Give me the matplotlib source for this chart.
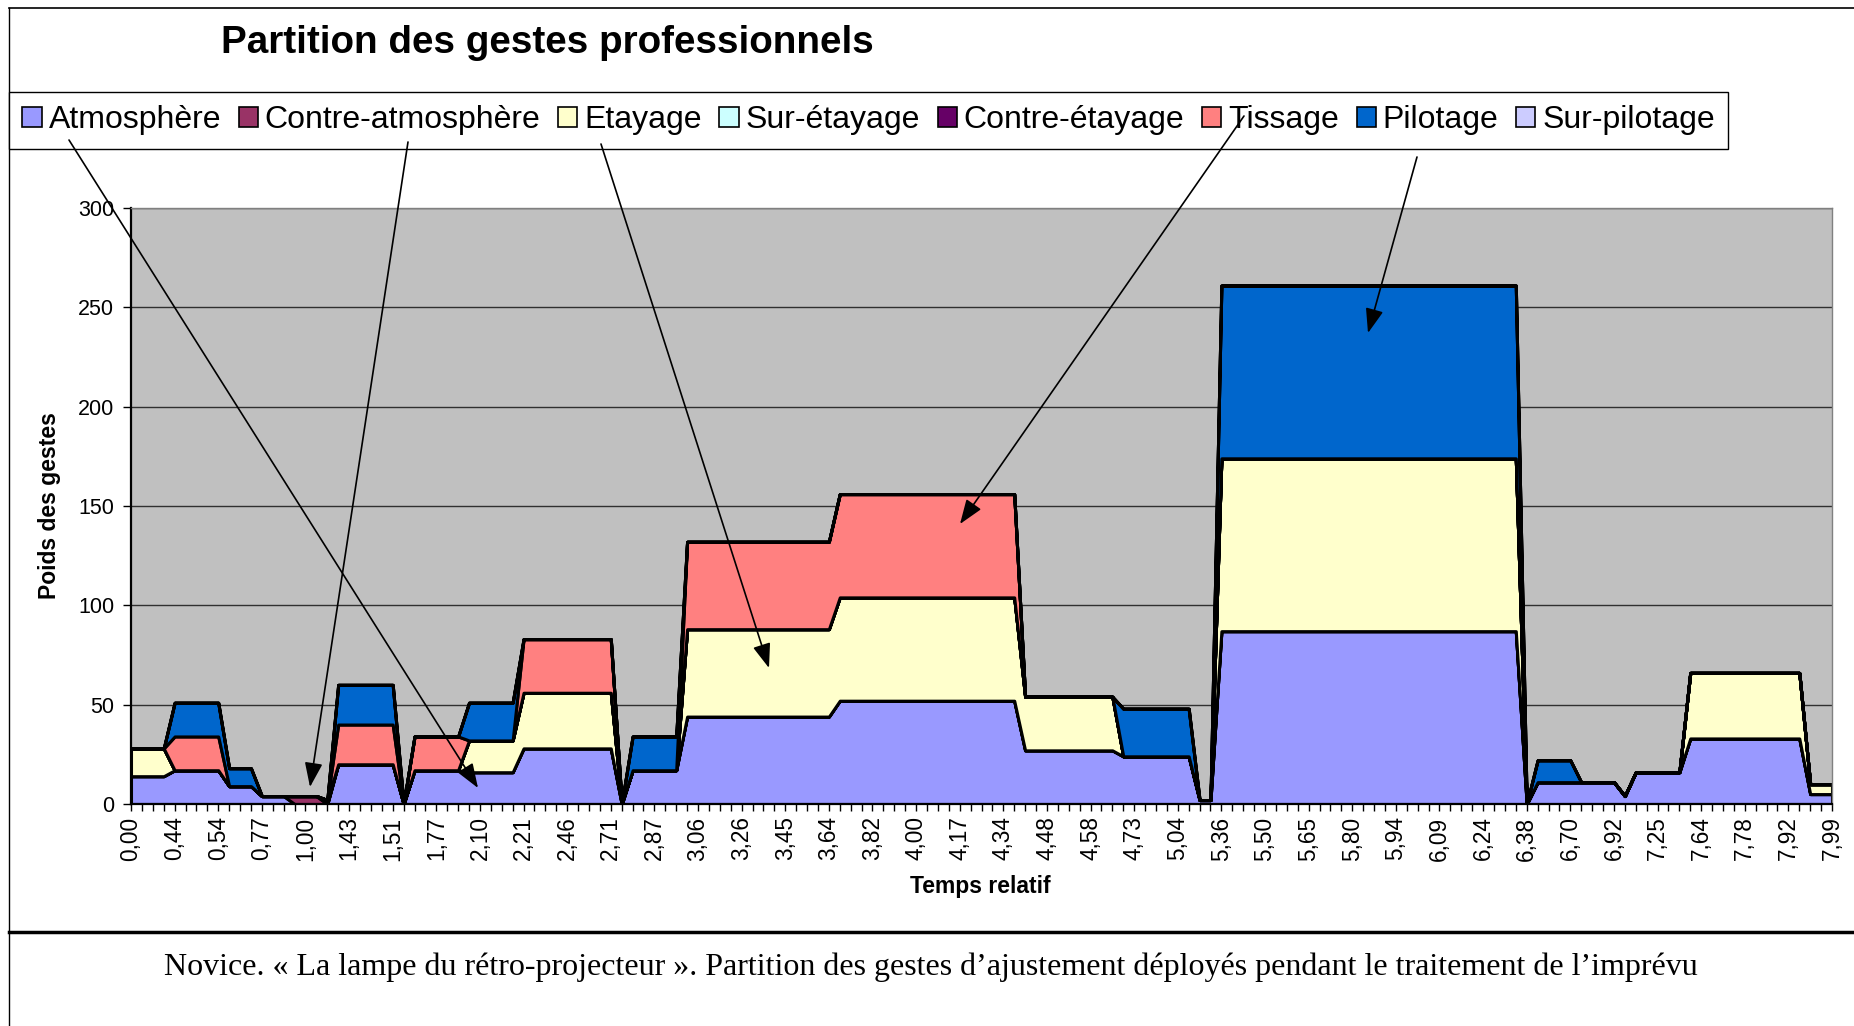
import matplotlib
matplotlib.use('Agg')
import matplotlib.pyplot as plt
from matplotlib.patches import Rectangle, FancyArrowPatch, ArrowStyle
from matplotlib.lines import Line2D
import numpy as np

# ---------------- data ----------------
series_names = ["Atmosphère", "Contre-atmosphère", "Etayage", "Sur-étayage",
                "Contre-étayage", "Tissage", "Pilotage", "Sur-pilotage"]
series_colors = ["#9999FF", "#993366", "#FFFFCC", "#CCFFFF",
                 "#660066", "#FF8080", "#0066CC", "#CCCCFF"]

tick_labels = ["0,00", "0,44", "0,54", "0,77", "1,00", "1,43", "1,51", "1,77",
               "2,10", "2,21", "2,46", "2,71", "2,87", "3,06", "3,26", "3,45",
               "3,64", "3,82", "4,00", "4,17", "4,34", "4,48", "4,58", "4,73",
               "5,04", "5,36", "5,50", "5,65", "5,80", "5,94", "6,09", "6,24",
               "6,38", "6,70", "6,92", "7,25", "7,64", "7,78", "7,92", "7,99"]

atmosphere = [14, 14, 14, 14, 17, 17, 17, 17, 17, 9,
              9, 9, 4, 4, 4, 0, 0, 0, 0, 20,
              20, 20, 20, 20, 20, 0, 17, 17, 17, 17,
              17, 16, 16, 16, 16, 16, 28, 28, 28, 28,
              28, 28, 28, 28, 28, 0, 17, 17, 17, 17,
              17, 44, 44, 44, 44, 44, 44, 44, 44, 44,
              44, 44, 44, 44, 44, 52, 52, 52, 52, 52,
              52, 52, 52, 52, 52, 52, 52, 52, 52, 52,
              52, 52, 27, 27, 27, 27, 27, 27, 27, 27,
              27, 24, 24, 24, 24, 24, 24, 24, 2, 2,
              87, 87, 87, 87, 87, 87, 87, 87, 87, 87,
              87, 87, 87, 87, 87, 87, 87, 87, 87, 87,
              87, 87, 87, 87, 87, 87, 87, 87, 0, 11,
              11, 11, 11, 11, 11, 11, 11, 4, 16, 16,
              16, 16, 16, 33, 33, 33, 33, 33, 33, 33,
              33, 33, 33, 33, 5, 5, 5]

contre_atmosphere = [0, 0, 0, 0, 0, 0, 0, 0, 0, 0,
                     0, 0, 0, 0, 0, 4, 4, 4, 0, 0,
                     0, 0, 0, 0, 0, 0, 0, 0, 0, 0,
                     0, 0, 0, 0, 0, 0, 0, 0, 0, 0,
                     0, 0, 0, 0, 0, 0, 0, 0, 0, 0,
                     0, 0, 0, 0, 0, 0, 0, 0, 0, 0,
                     0, 0, 0, 0, 0, 0, 0, 0, 0, 0,
                     0, 0, 0, 0, 0, 0, 0, 0, 0, 0,
                     0, 0, 0, 0, 0, 0, 0, 0, 0, 0,
                     0, 0, 0, 0, 0, 0, 0, 0, 0, 0,
                     0, 0, 0, 0, 0, 0, 0, 0, 0, 0,
                     0, 0, 0, 0, 0, 0, 0, 0, 0, 0,
                     0, 0, 0, 0, 0, 0, 0, 0, 0, 0,
                     0, 0, 0, 0, 0, 0, 0, 0, 0, 0,
                     0, 0, 0, 0, 0, 0, 0, 0, 0, 0,
                     0, 0, 0, 0, 0, 0, 0]

etayage = [14, 14, 14, 14, 0, 0, 0, 0, 0, 0,
           0, 0, 0, 0, 0, 0, 0, 0, 2, 0,
           0, 0, 0, 0, 0, 0, 0, 0, 0, 0,
           0, 16, 16, 16, 16, 16, 28, 28, 28, 28,
           28, 28, 28, 28, 28, 0, 0, 0, 0, 0,
           0, 44, 44, 44, 44, 44, 44, 44, 44, 44,
           44, 44, 44, 44, 44, 52, 52, 52, 52, 52,
           52, 52, 52, 52, 52, 52, 52, 52, 52, 52,
           52, 52, 27, 27, 27, 27, 27, 27, 27, 27,
           27, 0, 0, 0, 0, 0, 0, 0, 0, 0,
           87, 87, 87, 87, 87, 87, 87, 87, 87, 87,
           87, 87, 87, 87, 87, 87, 87, 87, 87, 87,
           87, 87, 87, 87, 87, 87, 87, 87, 0, 0,
           0, 0, 0, 0, 0, 0, 0, 0, 0, 0,
           0, 0, 0, 33, 33, 33, 33, 33, 33, 33,
           33, 33, 33, 33, 5, 5, 5]

sur_etayage = [0, 0, 0, 0, 0, 0, 0, 0, 0, 0,
               0, 0, 0, 0, 0, 0, 0, 0, 0, 0,
               0, 0, 0, 0, 0, 0, 0, 0, 0, 0,
               0, 0, 0, 0, 0, 0, 0, 0, 0, 0,
               0, 0, 0, 0, 0, 0, 0, 0, 0, 0,
               0, 0, 0, 0, 0, 0, 0, 0, 0, 0,
               0, 0, 0, 0, 0, 0, 0, 0, 0, 0,
               0, 0, 0, 0, 0, 0, 0, 0, 0, 0,
               0, 0, 0, 0, 0, 0, 0, 0, 0, 0,
               0, 0, 0, 0, 0, 0, 0, 0, 0, 0,
               0, 0, 0, 0, 0, 0, 0, 0, 0, 0,
               0, 0, 0, 0, 0, 0, 0, 0, 0, 0,
               0, 0, 0, 0, 0, 0, 0, 0, 0, 0,
               0, 0, 0, 0, 0, 0, 0, 0, 0, 0,
               0, 0, 0, 0, 0, 0, 0, 0, 0, 0,
               0, 0, 0, 0, 0, 0, 0]

contre_etayage = list(sur_etayage)

tissage = [0, 0, 0, 0, 17, 17, 17, 17, 17, 0,
           0, 0, 0, 0, 0, 0, 0, 0, 0, 20,
           20, 20, 20, 20, 20, 0, 17, 17, 17, 17,
           17, 0, 0, 0, 0, 0, 27, 27, 27, 27,
           27, 27, 27, 27, 27, 0, 0, 0, 0, 0,
           0, 44, 44, 44, 44, 44, 44, 44, 44, 44,
           44, 44, 44, 44, 44, 52, 52, 52, 52, 52,
           52, 52, 52, 52, 52, 52, 52, 52, 52, 52,
           52, 52, 0, 0, 0, 0, 0, 0, 0, 0,
           0, 0, 0, 0, 0, 0, 0, 0, 0, 0,
           0, 0, 0, 0, 0, 0, 0, 0, 0, 0,
           0, 0, 0, 0, 0, 0, 0, 0, 0, 0,
           0, 0, 0, 0, 0, 0, 0, 0, 0, 0,
           0, 0, 0, 0, 0, 0, 0, 0, 0, 0,
           0, 0, 0, 0, 0, 0, 0, 0, 0, 0,
           0, 0, 0, 0, 0, 0, 0]

pilotage = [0, 0, 0, 0, 17, 17, 17, 17, 17, 9,
            9, 9, 0, 0, 0, 0, 0, 0, 0, 20,
            20, 20, 20, 20, 20, 0, 0, 0, 0, 0,
            0, 19, 19, 19, 19, 19, 0, 0, 0, 0,
            0, 0, 0, 0, 0, 0, 17, 17, 17, 17,
            17, 0, 0, 0, 0, 0, 0, 0, 0, 0,
            0, 0, 0, 0, 0, 0, 0, 0, 0, 0,
            0, 0, 0, 0, 0, 0, 0, 0, 0, 0,
            0, 0, 0, 0, 0, 0, 0, 0, 0, 0,
            0, 24, 24, 24, 24, 24, 24, 24, 0, 0,
            87, 87, 87, 87, 87, 87, 87, 87, 87, 87,
            87, 87, 87, 87, 87, 87, 87, 87, 87, 87,
            87, 87, 87, 87, 87, 87, 87, 87, 0, 11,
            11, 11, 11, 0, 0, 0, 0, 0, 0, 0,
            0, 0, 0, 0, 0, 0, 0, 0, 0, 0,
            0, 0, 0, 0, 0, 0, 0]

sur_pilotage = list(sur_etayage)

title = "Partition des gestes professionnels"
ylabel = "Poids des gestes"
xlabel = "Temps relatif"
caption = ("Novice. \u00ab La lampe du r\u00e9tro-projecteur \u00bb. Partition des gestes "
           "d\u2019ajustement d\u00e9ploy\u00e9s pendant le traitement de l\u2019impr\u00e9vu")

series = [atmosphere, contre_atmosphere, etayage, sur_etayage,
          contre_etayage, tissage, pilotage, sur_pilotage]
n = len(atmosphere)
for s in series:
    assert len(s) == n, len(s)

# ---------------- figure ----------------
plt.rcParams['font.family'] = ['Liberation Sans', 'DejaVu Sans']
W, H = 1854, 1026
fig = plt.figure(figsize=(W / 100, H / 100), dpi=100)
fig.patch.set_facecolor('white')

def fx(px):
    return px / W

def fy(py):
    return 1 - py / H

# plot area
L, R, T, B = 131, 1832, 208, 804
ax = fig.add_axes([fx(L), fy(B), (R - L) / W, (B - T) / H])
ax.set_facecolor('#C0C0C0')
x = np.arange(n)
ax.stackplot(x, *series, colors=series_colors, edgecolor='black',
             linewidth=2.2, labels=series_names)
ax.set_xlim(0, n - 1)
ax.set_ylim(0, 300)
ax.set_yticks(np.arange(0, 301, 50))
ax.yaxis.grid(True, color='#303030', linewidth=1.0)
ax.set_axisbelow(True)

label_pos = np.arange(0, n, 4)
ax.set_xticks(label_pos)
ax.set_xticklabels(tick_labels, rotation=90, fontsize=16.3)
ax.set_xticks(x, minor=True)
ax.tick_params(axis='x', which='both', direction='out', length=5, width=1.0,
               color='black', pad=4)
ax.tick_params(axis='y', direction='out', length=6, width=1.0, labelsize=15.5,
               pad=6)
for sp in ['left', 'bottom']:
    ax.spines[sp].set_color('black')
    ax.spines[sp].set_linewidth(1.6)
for sp in ['top', 'right']:
    ax.spines[sp].set_color('#808080')
    ax.spines[sp].set_linewidth(1.0)

fig.text(fx(50), fy(506), ylabel, rotation=90, ha='center', va='center',
         fontsize=16.5, fontweight='bold')
fig.text(fx(980), fy(886), xlabel, ha='center', va='center',
         fontsize=16.5, fontweight='bold')

# title
t_title = fig.text(fx(221), fy(43), title, ha='left', va='center',
                   fontsize=27.8, fontweight='bold')

# legend
handles = [Rectangle((0, 0), 1, 1, facecolor=c, edgecolor='black', linewidth=1.2)
           for c in series_colors]
leg = fig.legend(handles, series_names, ncol=len(series_names), loc='upper left',
                 bbox_to_anchor=(fx(9), fy(92)), bbox_transform=fig.transFigure,
                 fontsize=23, frameon=True, fancybox=False, shadow=False,
                 edgecolor='black', framealpha=1, handlelength=0.6,
                 handleheight=0.6, handletextpad=0.22, columnspacing=0.55,
                 borderpad=0.42, borderaxespad=0)
leg.get_frame().set_linewidth(1.0)

# outer frame and separator
fig.add_artist(Line2D([fx(9), 1.0], [fy(8), fy(8)], color='black', lw=1.2))
fig.add_artist(Line2D([fx(9), fx(9)], [fy(8), 0.0], color='black', lw=1.0))
fig.add_artist(Line2D([fx(9), 1.0], [fy(932), fy(932)], color='black', lw=2.5))

# caption
t_cap = fig.text(fx(931), fy(967), caption, ha='center', va='center',
                 fontsize=21, family=['Liberation Serif', 'DejaVu Serif'])

# fit title and caption widths to the reference
fig.canvas.draw()
r = fig.canvas.get_renderer()
for t, target in [(t_title, 653), (t_cap, 1527)]:
    w = t.get_window_extent(r).width
    t.set_fontsize(t.get_fontsize() * target / w)

# annotation arrows (figure pixel coords)
arrows = [((69, 140), (478, 788)),
          ((408, 142), (310, 787)),
          ((601, 144), (769, 668)),
          ((1244, 116), (960, 524)),
          ((1417, 157), (1368, 333))]
style = ArrowStyle('-|>', head_length=15, head_width=5.5)
for (x0, y0), (x1, y1) in arrows:
    fig.add_artist(FancyArrowPatch((fx(x0), fy(y0)), (fx(x1), fy(y1)),
                                   transform=fig.transFigure, arrowstyle=style,
                                   mutation_scale=1, color='black', lw=1.2,
                                   shrinkA=0, shrinkB=0, zorder=10))

fig.savefig('out.png', dpi=100, facecolor='white')
